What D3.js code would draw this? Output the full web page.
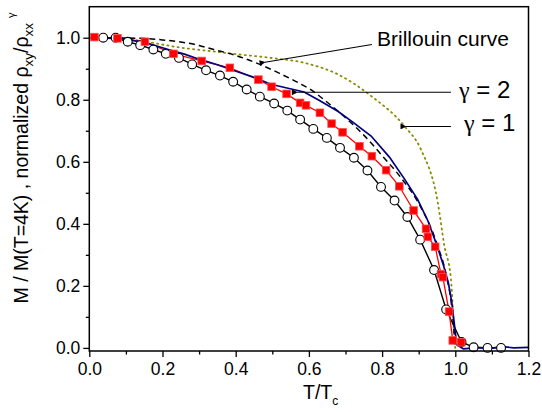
<!DOCTYPE html>
<html>
<head>
<meta charset="utf-8">
<script src="https://cdn.jsdelivr.net/npm/d3@7"></script>
<style>
  body { margin: 0; background: #fff; }
  text { font-family: Arial, "Liberation Sans", sans-serif; }
</style>
</head>
<body>
<script>
// measured M(T)/M(4K), open circles
const circleX = [0.038, 0.072, 0.105, 0.139, 0.175, 0.209, 0.245, 0.281, 0.319, 0.357, 0.393, 0.430, 0.466, 0.505, 0.541, 0.576, 0.612, 0.649, 0.685, 0.723, 0.760, 0.797, 0.834, 0.869, 0.904, 0.942, 0.975, 1.017, 1.050, 1.088, 1.125];
const circleY = [1.000, 1.000, 0.987, 0.976, 0.962, 0.948, 0.935, 0.914, 0.895, 0.878, 0.858, 0.833, 0.810, 0.788, 0.765, 0.736, 0.706, 0.677, 0.645, 0.613, 0.572, 0.519, 0.475, 0.422, 0.349, 0.251, 0.124, 0.019, 0.002, 0.000, 0.000];

// red squares
const squareX = [0.014, 0.077, 0.152, 0.230, 0.307, 0.384, 0.462, 0.498, 0.539, 0.576, 0.592, 0.630, 0.662, 0.692, 0.738, 0.772, 0.811, 0.847, 0.886, 0.920, 0.925, 0.945, 0.961, 0.966, 0.983, 0.993, 1.016];
const squareY = [1.002, 0.998, 0.987, 0.948, 0.925, 0.903, 0.865, 0.842, 0.819, 0.790, 0.782, 0.758, 0.723, 0.695, 0.650, 0.618, 0.573, 0.521, 0.443, 0.384, 0.358, 0.326, 0.238, 0.228, 0.117, 0.024, 0.018];

// gamma = 2 (blue line)
const blueX = [0.029, 0.06, 0.09, 0.125, 0.17, 0.216, 0.26, 0.302, 0.35, 0.393, 0.45, 0.496, 0.54, 0.587, 0.63, 0.679, 0.72, 0.770, 0.82, 0.861, 0.897, 0.925, 0.949, 0.968, 0.981, 0.990, 0.996, 1.004, 1.022, 1.06, 1.10, 1.13, 1.16, 1.20];
const blueY = [1.000, 0.998, 0.996, 0.990, 0.978, 0.962, 0.947, 0.930, 0.913, 0.895, 0.872, 0.850, 0.838, 0.825, 0.797, 0.763, 0.728, 0.683, 0.615, 0.545, 0.479, 0.410, 0.333, 0.265, 0.210, 0.150, 0.091, 0.010, -0.003, 0.001, -0.001, 0.004, 0.000, 0.002];

// Brillouin curve (dashed)
const brilX = [0.00, 0.10, 0.20, 0.30, 0.34, 0.40, 0.466, 0.52, 0.576, 0.603, 0.65, 0.70, 0.75, 0.80, 0.85, 0.90, 0.95, 0.977, 0.990, 1.000];
const brilY = [1.000, 0.999, 0.993, 0.975, 0.962, 0.943, 0.914, 0.885, 0.852, 0.834, 0.792, 0.742, 0.686, 0.620, 0.551, 0.466, 0.335, 0.225, 0.135, 0.000];

// gamma = 1 (olive dotted)
const oliveX = [0.03, 0.075, 0.15, 0.25, 0.33, 0.41, 0.496, 0.587, 0.679, 0.770, 0.861, 0.906, 0.952, 0.970, 0.988, 0.993, 0.997, 1.00];
const oliveY = [1.000, 1.000, 0.988, 0.968, 0.957, 0.946, 0.935, 0.919, 0.882, 0.812, 0.715, 0.640, 0.470, 0.330, 0.223, 0.136, 0.030, 0.000];

const xMajor = [0, 0.2, 0.4, 0.6, 0.8, 1.0, 1.2];
const xMinor = [0.1, 0.3, 0.5, 0.7, 0.9, 1.1];
const yMajor = [0, 0.2, 0.4, 0.6, 0.8, 1.0];
const yMinor = [0.1, 0.3, 0.5, 0.7, 0.9];

const width = 542, height = 412;
const margin = { top: 6.7, right: 13.5, bottom: 61, left: 89.3 };

const svg = d3.select("body").append("svg")
    .attr("width", width)
    .attr("height", height);

const x = d3.scaleLinear().domain([0, 1.2]).range([margin.left, width - margin.right]);
const y = d3.scaleLinear().domain([-0.01, 1.1]).range([height - margin.bottom, margin.top]);

const defs = svg.append("defs");
defs.append("marker")
    .attr("id", "arrow")
    .attr("viewBox", "0 0 10 10")
    .attr("refX", 1).attr("refY", 5)
    .attr("markerWidth", 9).attr("markerHeight", 6)
    .attr("markerUnits", "userSpaceOnUse")
    .attr("orient", "auto-start-reverse")
    .append("path")
    .attr("d", "M0,5 L10,0 L10,10 Z")
    .attr("fill", "#000");

function pts(xs, ys) { return xs.map((v, i) => [v, ys[i]]); }
const line = d3.line().x(d => x(d[0])).y(d => y(d[1]));
const smooth = d3.line().x(d => x(d[0])).y(d => y(d[1])).curve(d3.curveMonotoneX);

// curves
svg.append("path").attr("d", smooth(pts(oliveX, oliveY)))
    .attr("fill", "none").attr("stroke", "#8a8a00").attr("stroke-width", 1.8)
    .attr("stroke-dasharray", "1.2 4").attr("stroke-linecap", "round");

svg.append("path").attr("d", line(pts(circleX, circleY)))
    .attr("fill", "none").attr("stroke", "#000").attr("stroke-width", 1.4);

svg.append("path").attr("d", line(pts(squareX, squareY)))
    .attr("fill", "none").attr("stroke", "#ff0000").attr("stroke-width", 1.3);

svg.append("path").attr("d", smooth(pts(brilX, brilY)))
    .attr("fill", "none").attr("stroke", "#000").attr("stroke-width", 1.5)
    .attr("stroke-dasharray", "6 4");

svg.append("path").attr("d", line(pts(blueX, blueY)))
    .attr("fill", "none").attr("stroke", "#000080").attr("stroke-width", 1.7);

svg.append("g").selectAll("circle")
    .data(pts(circleX, circleY)).join("circle")
    .attr("cx", d => x(d[0])).attr("cy", d => y(d[1])).attr("r", 4.4)
    .attr("fill", "#fff").attr("stroke", "#000").attr("stroke-width", 1.1);

svg.append("g").selectAll("rect")
    .data(pts(squareX, squareY)).join("rect")
    .attr("x", d => x(d[0]) - 3.8).attr("y", d => y(d[1]) - 3.8)
    .attr("width", 7.6).attr("height", 7.6)
    .attr("fill", "#ff0000").attr("stroke", "#ff5050").attr("stroke-width", 0.8);

// axes
const gx = svg.append("g").attr("transform", `translate(0,${y.range()[0]})`);
gx.call(d3.axisBottom(x).tickValues(xMajor).tickSize(6).tickSizeOuter(0).tickFormat(d3.format(".1f")));
gx.append("g").call(d3.axisBottom(x).tickValues(xMinor).tickSize(3.5).tickSizeOuter(0).tickFormat(""));

const gy = svg.append("g").attr("transform", `translate(${x.range()[0]},0)`);
gy.call(d3.axisLeft(y).tickValues(yMajor).tickSize(6).tickSizeOuter(0).tickFormat(d3.format(".1f")));
gy.append("g").call(d3.axisLeft(y).tickValues(yMinor).tickSize(3.5).tickSizeOuter(0).tickFormat(""));

svg.selectAll(".domain").remove();
svg.selectAll(".tick line").attr("stroke", "#000").attr("stroke-width", 1.3);
svg.selectAll(".tick text").attr("font-size", 17.5).attr("fill", "#000")
    .attr("font-family", "Arial, 'Liberation Sans', sans-serif");
gx.selectAll(".tick text").attr("dy", "0.95em").attr("y", 7);
gy.selectAll(".tick text").attr("x", -9);

svg.append("rect")
    .attr("x", x.range()[0]).attr("y", y.range()[1])
    .attr("width", x.range()[1] - x.range()[0])
    .attr("height", y.range()[0] - y.range()[1])
    .attr("fill", "none").attr("stroke", "#000").attr("stroke-width", 1.5);

// axis titles
const xt = svg.append("text")
    .attr("x", 303).attr("y", 399)
    .attr("font-size", 19.5).attr("fill", "#000");
xt.append("tspan").text("T/T");
xt.append("tspan").attr("font-size", 12).attr("dy", 6).text("c");

const yt = svg.append("text")
    .attr("transform", "translate(28,158) rotate(-90)")
    .attr("text-anchor", "middle")
    .attr("font-size", 19.5).attr("fill", "#000");
yt.append("tspan").text("M / M(T=4K) , normalized \u03c1");
yt.append("tspan").attr("font-size", 13.5).attr("dy", 5).text("xy");
yt.append("tspan").attr("dy", -5).text("/\u03c1");
yt.append("tspan").attr("font-size", 13.5).attr("dy", 5).text("xx");
yt.append("tspan").attr("font-size", 11).attr("dy", -18).attr("dx", 5).text("\u03b3");

// annotations
const notes = [
  { label: "Brillouin curve", tx: 0.786, ty: 0.974, x1: 0.772, y1: 0.978, x2: 0.480, y2: 0.921, size: 21 },
  { label: "= 2", tx: 1.010, ty: 0.806, x1: 0.988, y1: 0.824, x2: 0.568, y2: 0.824, size: 24, gamma: true },
  { label: "= 1", tx: 1.024, ty: 0.699, x1: 0.988, y1: 0.714, x2: 0.865, y2: 0.714, size: 24, gamma: true }
];

notes.forEach(n => {
  svg.append("line")
      .attr("x1", x(n.x1)).attr("y1", y(n.y1))
      .attr("x2", x(n.x2)).attr("y2", y(n.y2))
      .attr("stroke", "#000").attr("stroke-width", 1.1)
      .attr("marker-end", "url(#arrow)");
  const t = svg.append("text").attr("x", x(n.tx)).attr("y", y(n.ty))
      .attr("font-size", n.size).attr("fill", "#000");
  if (n.gamma) {
    t.append("tspan").attr("font-family", "'Liberation Serif', 'DejaVu Serif', serif").text("\u03b3");
    t.append("tspan").text(" " + n.label);
  } else {
    t.text(n.label);
  }
});
</script>
</body>
</html>
